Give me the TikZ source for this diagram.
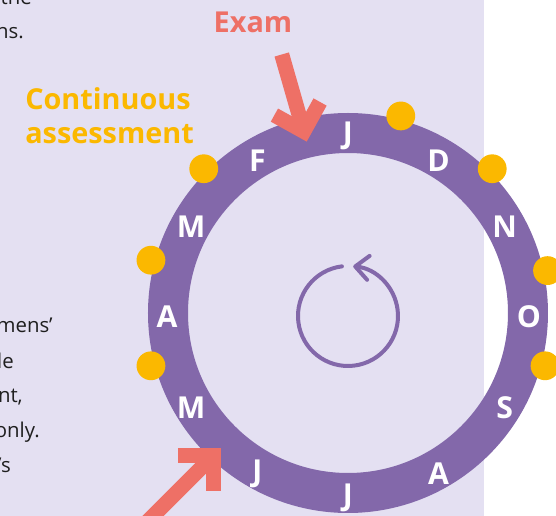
\documentclass[tikz,border=0pt]{standalone}
\usepackage{fontspec}
\setmainfont{Open Sans}
\usetikzlibrary{arrows.meta,calc}
\definecolor{lavender}{HTML}{E4E0F2}
\definecolor{ringpurple}{HTML}{8368AA}
\definecolor{dotyellow}{HTML}{FBB800}
\definecolor{examred}{HTML}{EE7066}
\definecolor{bodytext}{HTML}{1F1F1F}

\begin{document}
\begin{tikzpicture}[
  month/.style={text=white, font=\bfseries\fontsize{21.5}{24}\selectfont, inner sep=0pt, yshift=-0.1cm},
  heading/.style={font=\bfseries\fontsize{20.5}{24}\selectfont, inner sep=0pt},
  pointer/.style={draw=examred, line width=0.375cm, line join=miter},
  bodyline/.style={anchor=base east, text=bodytext, font=\fontsize{14.5}{18}\selectfont, inner sep=0pt}
]
\useasboundingbox (-8.7,-5.075) rectangle (5.2,7.825);

% Background panel
\fill[lavender] (-8.7,-5.075) rectangle (3.4,7.825);

% Cut-off page text on the left
\node[bodyline] (txtthe) at (-7.9,7.7) {the};
\node[bodyline] (txtns) at (-8.1,6.85) {ns.};
\node[bodyline] (txtmens) at (-7.375,-0.5) {mens’};
\node[bodyline] (txtle) at (-8.35,-1.4) {le};
\node[bodyline] (txtnt) at (-8.125,-2.25) {nt,};
\node[bodyline] (txtonly) at (-7.7,-3.125) {only.};
\node[bodyline] (txts) at (-8.425,-4.0) {’s};

% Labels
\node[heading, text=examred, anchor=base] (exam) at (-2.375,7.0) {Exam};
\node[heading, text=dotyellow, anchor=base west] (conta) at (-8.075,5.075) {Continuous};
\node[heading, text=dotyellow, anchor=base west] (contb) at (-8.075,4.225) {assessment};

% Year ring
\draw[ringpurple, line width=1cm] (0,0) circle(4.5);

% Months, January on top
\foreach \m [count=\i] in {J,F,M,A,M,J,J,A,S,O,N,D}
  \node[month] (m\i) at ({90+30*(\i-1)}:4.525) {\m};

% Assessment dots
\foreach \a in {75,45,12,-15,135,165,195}
  \fill[dotyellow] (\a:5.1) circle(0.36);

% Cycle arrow
\draw[ringpurple, line width=0.1cm, line cap=round,
  -{Straight Barb[round, length=0.33cm, width=0.6cm]}]
  (0,-0.075) ++(97:1.25) arc[start angle=97, end angle=444, radius=1.25];

% Exam arrow, top
\coordinate (examtip) at (-1.105,4.54);
\coordinate (examtail) at ($(examtip)+(106:2.0)$);
\draw[pointer] (examtail) -- (examtip);
\draw[pointer] ($(examtip)+(151:0.84)$) -- (examtip) -- ($(examtip)+(61:0.84)$);

% Exam arrow, bottom
\coordinate (examtipb) at (-3.37,-3.57);
\coordinate (examtailb) at ($(examtipb)+(225:2.5)$);
\draw[pointer] (examtailb) -- (examtipb);
\draw[pointer] ($(examtipb)+(180:0.88)$) -- (examtipb) -- ($(examtipb)+(270:0.88)$);

\end{tikzpicture}
\end{document}
